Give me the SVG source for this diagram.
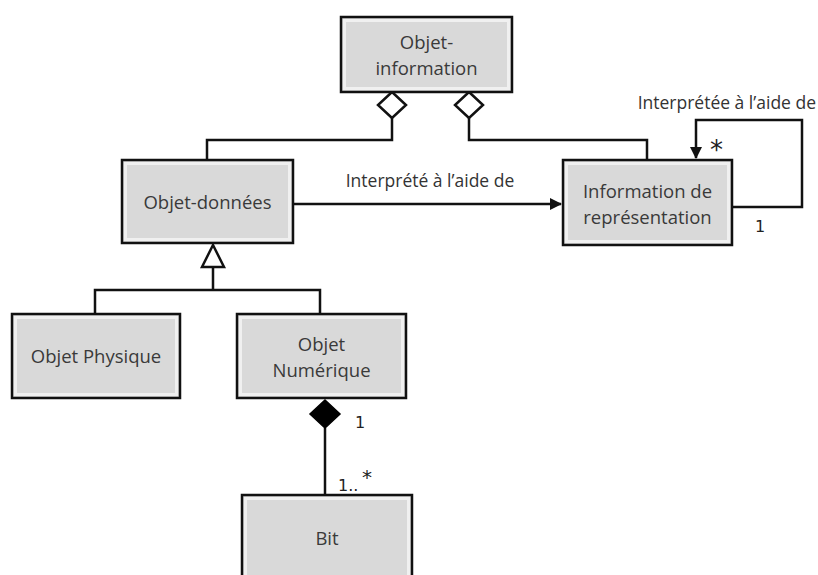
<svg xmlns="http://www.w3.org/2000/svg" width="818" height="575" viewBox="0 0 818 575">
<defs>
<style>
.box{fill:#d9d9d9;stroke:#111;stroke-width:2.5}
.bev{fill:none;stroke:#f2f2f2;stroke-width:3;opacity:0.9}
.t{font-family:"Open Sans","DejaVu Sans",sans-serif;font-size:18.5px;fill:#3a3a3a;text-anchor:middle}
.l{font-family:"Open Sans","DejaVu Sans",sans-serif;font-size:17.5px;fill:#333}
.m{font-family:"DejaVu Sans",sans-serif;font-size:16px;fill:#222}
.star{font-family:"DejaVu Sans",sans-serif;font-size:26px;fill:#222}
.c{fill:none;stroke:#111;stroke-width:2.5}
</style>
<marker id="arr" markerWidth="12" markerHeight="12" refX="11" refY="6" orient="auto" markerUnits="userSpaceOnUse">
<path d="M0,0 L12,6 L0,12 Z" fill="#111"/>
</marker>
</defs>
<rect width="818" height="575" fill="#fff"/>
<g id="connectors">
<path class="c" d="M392,118 V140 H207 V160"/>
<path class="c" d="M469,118 V140 H647 V160"/>
<path class="c" d="M293,204 H561" marker-end="url(#arr)"/>
<path class="c" d="M732,207 H802 V120 H696 V158" marker-end="url(#arr)"/>
<path class="c" d="M213,267 V290 M95,314 V290 H320 V314"/>
<path class="c" d="M325,428 V495"/>
<path d="M392,92 L406,105 L392,118 L378,105 Z" fill="#fff" stroke="#111" stroke-width="2.5"/>
<path d="M469,92 L483,105 L469,118 L455,105 Z" fill="#fff" stroke="#111" stroke-width="2.5"/>
<path d="M213,245 L224,267 L202,267 Z" fill="#fff" stroke="#111" stroke-width="2.5"/>
<path d="M325,400 L340,414 L325,428 L310,414 Z" fill="#000" stroke="#000" stroke-width="1.5"/>
<text class="l" x="430" y="187" text-anchor="middle">Interprété à l’aide de</text>
<text class="l" x="816" y="109" text-anchor="end">Interprétée à l’aide de</text>
<text class="star" x="710" y="159">*</text>
<text class="m" x="755" y="232">1</text>
<text class="m" x="355" y="428">1</text>
<text class="m" x="338" y="491">1..</text>
<text class="star" x="362" y="484" style="font-size:20px">*</text>
</g>
<g id="objet-information">
<rect class="box" x="341" y="17" width="171" height="75"/>
<rect class="bev" x="344.5" y="20.5" width="164" height="68"/>
<text class="t" x="426.5" y="49">Objet-</text>
<text class="t" x="426.5" y="75">information</text>
</g>
<g id="objet-donnees">
<rect class="box" x="122" y="160" width="171" height="83"/>
<rect class="bev" x="125.5" y="163.5" width="164" height="76"/>
<text class="t" x="207.5" y="209">Objet-données</text>
</g>
<g id="information-representation">
<rect class="box" x="563" y="160" width="169" height="85"/>
<rect class="bev" x="566.5" y="163.5" width="162" height="78"/>
<text class="t" x="647.5" y="198">Information de</text>
<text class="t" x="647.5" y="224">représentation</text>
</g>
<g id="objet-physique">
<rect class="box" x="12" y="314" width="168" height="84"/>
<rect class="bev" x="15.5" y="317.5" width="161" height="77"/>
<text class="t" x="96" y="363">Objet Physique</text>
</g>
<g id="objet-numerique">
<rect class="box" x="237" y="314" width="169" height="84"/>
<rect class="bev" x="240.5" y="317.5" width="162" height="77"/>
<text class="t" x="321.5" y="351">Objet</text>
<text class="t" x="321.5" y="377">Numérique</text>
</g>
<g id="bit">
<rect class="box" x="242" y="495" width="170" height="95"/>
<rect class="bev" x="245.5" y="498.5" width="163" height="88"/>
<text class="t" x="327" y="545">Bit</text>
</g>
</svg>
